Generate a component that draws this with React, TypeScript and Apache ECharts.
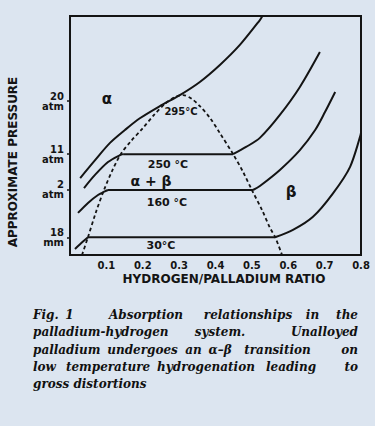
import React, { useEffect, useRef } from "react";
import * as echarts from "echarts";

// ---- Data (x = hydrogen/palladium ratio, y = relative position on an approximate pressure scale) ----
const yTickValues = [7.4, 27.2, 42.2, 64.4];
const yTickLabels = ["18\nmm", "2\natm", "11\natm", "20\natm"];

const iso295 = [
  [0.028, 32.2], [0.069, 39.7], [0.11, 46.9], [0.151, 52.3], [0.192, 57.2], [0.247, 62.3],
  [0.302, 66.9], [0.357, 72.4], [0.412, 79.5], [0.467, 87.9], [0.522, 98.3], [0.529, 100],
];

const iso250Alpha = [[0.0385, 28.0], [0.0687, 33.5], [0.1045, 38.9], [0.1375, 41.8], [0.146, 42.2]];
const iso250Plateau = [[0.146, 42.2], [0.448, 42.2]];
const iso250Beta = [[0.448, 42.2], [0.484, 45.2], [0.522, 49.0], [0.577, 58.6], [0.632, 70.3], [0.687, 84.9]];

const iso160Alpha = [[0.022, 17.6], [0.0495, 21.8], [0.077, 25.1], [0.096, 26.6], [0.1045, 27.2]];
const iso160Plateau = [[0.1045, 27.2], [0.503, 27.2]];
const iso160Beta = [[0.503, 27.2], [0.522, 28.9], [0.577, 35.6], [0.632, 43.9], [0.674, 52.3], [0.701, 59.8], [0.729, 68.2]];

const iso30Alpha = [[0.0137, 2.5], [0.0357, 5.6], [0.0495, 7.4]];
const iso30Plateau = [[0.0495, 7.4], [0.5636, 7.4]];
const iso30Beta = [[0.5636, 7.4], [0.613, 10.5], [0.668, 16.0], [0.723, 25.8], [0.77, 36.9], [0.8, 51.0]];

const twoPhaseDome = [
  [0.033, 0], [0.0495, 7.5], [0.0715, 18.0], [0.0935, 27.2], [0.1155, 35.1], [0.14, 42.3],
  [0.168, 47.7], [0.198, 52.7], [0.231, 58.6], [0.261, 63.2], [0.289, 66.1], [0.311, 66.9],
  [0.335, 65.3], [0.357, 62.3], [0.385, 57.3], [0.412, 51.0], [0.448, 42.3], [0.476, 34.7],
  [0.5, 27.2], [0.528, 18.8], [0.55, 11.3], [0.564, 7.5], [0.583, 0],
];

const solidSegments = [
  iso295,
  iso250Alpha, iso250Plateau, iso250Beta,
  iso160Alpha, iso160Plateau, iso160Beta,
  iso30Alpha, iso30Plateau, iso30Beta,
];

const xAxisName = "HYDROGEN/PALLADIUM RATIO";
const yAxisName = "APPROXIMATE PRESSURE";

const captionLines = [
  ["Fig.", "1", "Absorption", "relationships", "in", "the"],
  ["palladium-hydrogen", "system.", "Unalloyed"],
  ["palladium", "undergoes", "an", "α–β", "transition", "on"],
  ["low", "temperature", "hydrogenation", "leading", "to"],
  ["gross distortions"],
];

// layout of caption words (x centres / edges in px) — layout only
const captionX = [
  [33, 69.5, 146, 248, 312.5, 358],
  [33, 220, 358],
  [33, 142.5, 193.5, 220, 277.5, 358],
  [33, 108, 206, 291, 358],
  [33],
];

const INK = "#141414";
const BG = "#dce5f0";

export default function App() {
  const ref = useRef<HTMLDivElement>(null);

  useEffect(() => {
    if (!ref.current) return;
    const chart = echarts.init(ref.current, undefined, { renderer: "svg" });

    const series: any[] = solidSegments.map((seg) => ({
      type: "line",
      data: seg,
      smooth: seg.length > 2 ? 0.3 : false,
      showSymbol: false,
      symbol: "none",
      clip: true,
      silent: true,
      lineStyle: { color: INK, width: 2 },
    }));
    series.push({
      type: "line",
      data: twoPhaseDome,
      smooth: 0.3,
      showSymbol: false,
      symbol: "none",
      clip: true,
      silent: true,
      lineStyle: { color: INK, width: 1.8, type: [3.5, 2.8] },
    });

    const textStyle = (size: number, weight = "bold") => ({
      fill: INK,
      font: `${weight} ${size}px "DejaVu Sans"`,
      align: "center",
      verticalAlign: "middle",
      textAlign: "center",
      textVerticalAlign: "middle",
    });

    const annotations = [
      { t: "α", x: 107, y: 99, s: 15 },
      { t: "295°C", x: 181, y: 111, s: 10 },
      { t: "250 °C", x: 168, y: 164, s: 11 },
      { t: "α + β", x: 151, y: 181, s: 14 },
      { t: "160 °C", x: 167, y: 202, s: 11 },
      { t: "30°C", x: 161, y: 245, s: 11 },
      { t: "β", x: 291, y: 192, s: 15 },
    ];

    const graphic: any[] = annotations.map((a) => ({
      type: "text",
      x: a.x,
      y: a.y,
      silent: true,
      style: { text: a.t, ...textStyle(a.s) },
    }));

    graphic.push({
      type: "text",
      x: 224,
      y: 278.5,
      silent: true,
      style: { text: xAxisName, ...textStyle(12, "bold") },
    });
    graphic.push({
      type: "text",
      x: 13,
      y: 162,
      rotation: Math.PI / 2,
      silent: true,
      style: { text: yAxisName, ...textStyle(12, "bold") },
    });

    const baseY = [315.4, 332.2, 349.6, 366.9, 384.4];
    captionLines.forEach((words, li) => {
      words.forEach((w, wi) => {
        const last = wi === words.length - 1 && words.length > 1;
        const first = wi === 0;
        const align = first ? "left" : last ? "right" : "center";
        graphic.push({
          type: "text",
          x: captionX[li][wi],
          y: baseY[li],
          silent: true,
          style: {
            text: w,
            fill: "#111",
            font: 'italic bold 12px "DejaVu Serif"',
            align,
            textAlign: align,
            verticalAlign: "middle",
            textVerticalAlign: "middle",
          },
        });
      });
    });

    const labelFor = (v: number) => {
      const i = yTickValues.findIndex((t) => Math.abs(t - v) < 0.01);
      return i >= 0 ? yTickLabels[i] : "";
    };

    chart.setOption({
      animation: false,
      backgroundColor: BG,
      grid: {
        left: 70,
        top: 16,
        right: 14,
        bottom: 171,
        show: true,
        borderColor: INK,
        borderWidth: 2,
        backgroundColor: "transparent",
      },
      xAxis: {
        type: "value",
        min: 0,
        max: 0.8,
        interval: 0.1,
        axisLine: { show: false },
        axisTick: { show: false },
        splitLine: { show: false },
        axisLabel: {
          formatter: (v: number) => (v === 0 ? "" : v.toFixed(1)),
          color: INK,
          fontSize: 10,
          fontWeight: "bold",
          fontFamily: "DejaVu Sans",
          margin: 5,
        },
      },
      yAxis: {
        type: "value",
        min: 0,
        max: 100,
        axisLine: { show: false },
        splitLine: { show: false },
        axisTick: {
          show: true,
          customValues: yTickValues,
          length: 3,
          inside: false,
          lineStyle: { color: INK, width: 1.5 },
        },
        axisLabel: {
          customValues: yTickValues,
          formatter: (v: number) => labelFor(v),
          color: INK,
          fontSize: 10,
          fontWeight: "bold",
          fontFamily: "DejaVu Sans",
          lineHeight: 10,
          margin: 6,
        },
      },
      series,
      graphic,
    });

    return () => chart.dispose();
  }, []);

  return (
    <div
      ref={ref}
      style={{ position: "absolute", left: 0, top: 0, width: 375, height: 426, background: BG }}
    />
  );
}
